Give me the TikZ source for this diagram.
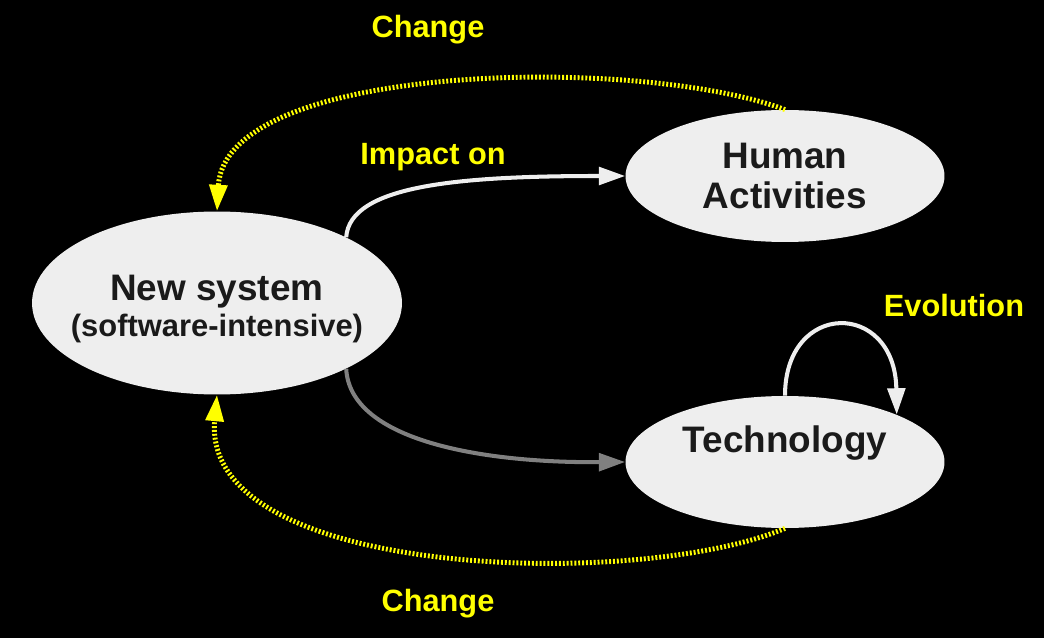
\documentclass[tikz,border=0pt]{standalone}
\usepackage{fontspec}
\setmainfont{Liberation Sans}
\usetikzlibrary{shapes.geometric,arrows.meta}
\definecolor{blobfill}{HTML}{EEEEEE}
\definecolor{blobtext}{HTML}{1A1A1A}
\definecolor{tipgrey}{HTML}{808080}
\definecolor{changeyellow}{HTML}{FFFF00}
\begin{document}
\begin{tikzpicture}[x=0.02cm,y=-0.02cm]
\tikzstyle{every node}+=[inner sep=0pt]
\tikzstyle{blob}=[ellipse,fill=blobfill,text=blobtext,align=center,font=\bfseries\fontsize{21}{22.7}\selectfont]
\tikzstyle{lbl}=[text=changeyellow,font=\bfseries\fontsize{17.5}{20}\selectfont]
\tikzstyle{impact}=[line width=2.3pt,-{Triangle[length=15pt,width=10pt]}]
\tikzstyle{feedback}=[changeyellow,line width=2.8pt,dash pattern=on 1.1pt off 1.1pt,-{Triangle[length=15pt,width=10pt]}]
\fill [black] (0,0) rectangle (1044,638);
\useasboundingbox (0,0) rectangle (1044,638);
% the three ellipses
\node [blob,inner xsep=-9pt,minimum width=7.4cm,minimum height=3.66cm] (newsys) at (217,303)
  {\fontsize{21}{21.5}\selectfont \raisebox{-9pt}[0pt][0pt]{New system}\\[-2pt]{\fontsize{17.6}{21.5}\selectfont \raisebox{-9pt}[0pt][0pt]{(software-intensive)}}};
\node [blob,minimum width=6.38cm,minimum height=2.64cm] (human) at (785,176) {Human\\Activities};
\node [blob,minimum width=6.38cm,minimum height=2.64cm] (tech) at (785,462) {Technology\\[-3pt]\strut};
% labels
\node [lbl] (changetop) at (428,30) {Change};
\node [lbl] (impacton) at (433,157) {Impact on};
\node [lbl] (evolution) at (954,306) {Evolution};
\node [lbl] (changebot) at (438,604) {Change};
% arrows
\draw [impact,blobfill] (newsys.27) .. controls (350,185) and (460,176) .. (human.west);
\draw [impact,tipgrey] (newsys.-27) .. controls (350,440) and (480,463) .. (tech.west);
\draw [impact,blobfill] (tech.north) .. controls (785,300) and (895,300) .. (tech.23);
\draw [feedback] (human.north) .. controls (640,55) and (225,62) .. (newsys.north);
\draw [feedback] (tech.south) .. controls (640,590) and (200,580) .. (newsys.south);
\end{tikzpicture}
\end{document}
